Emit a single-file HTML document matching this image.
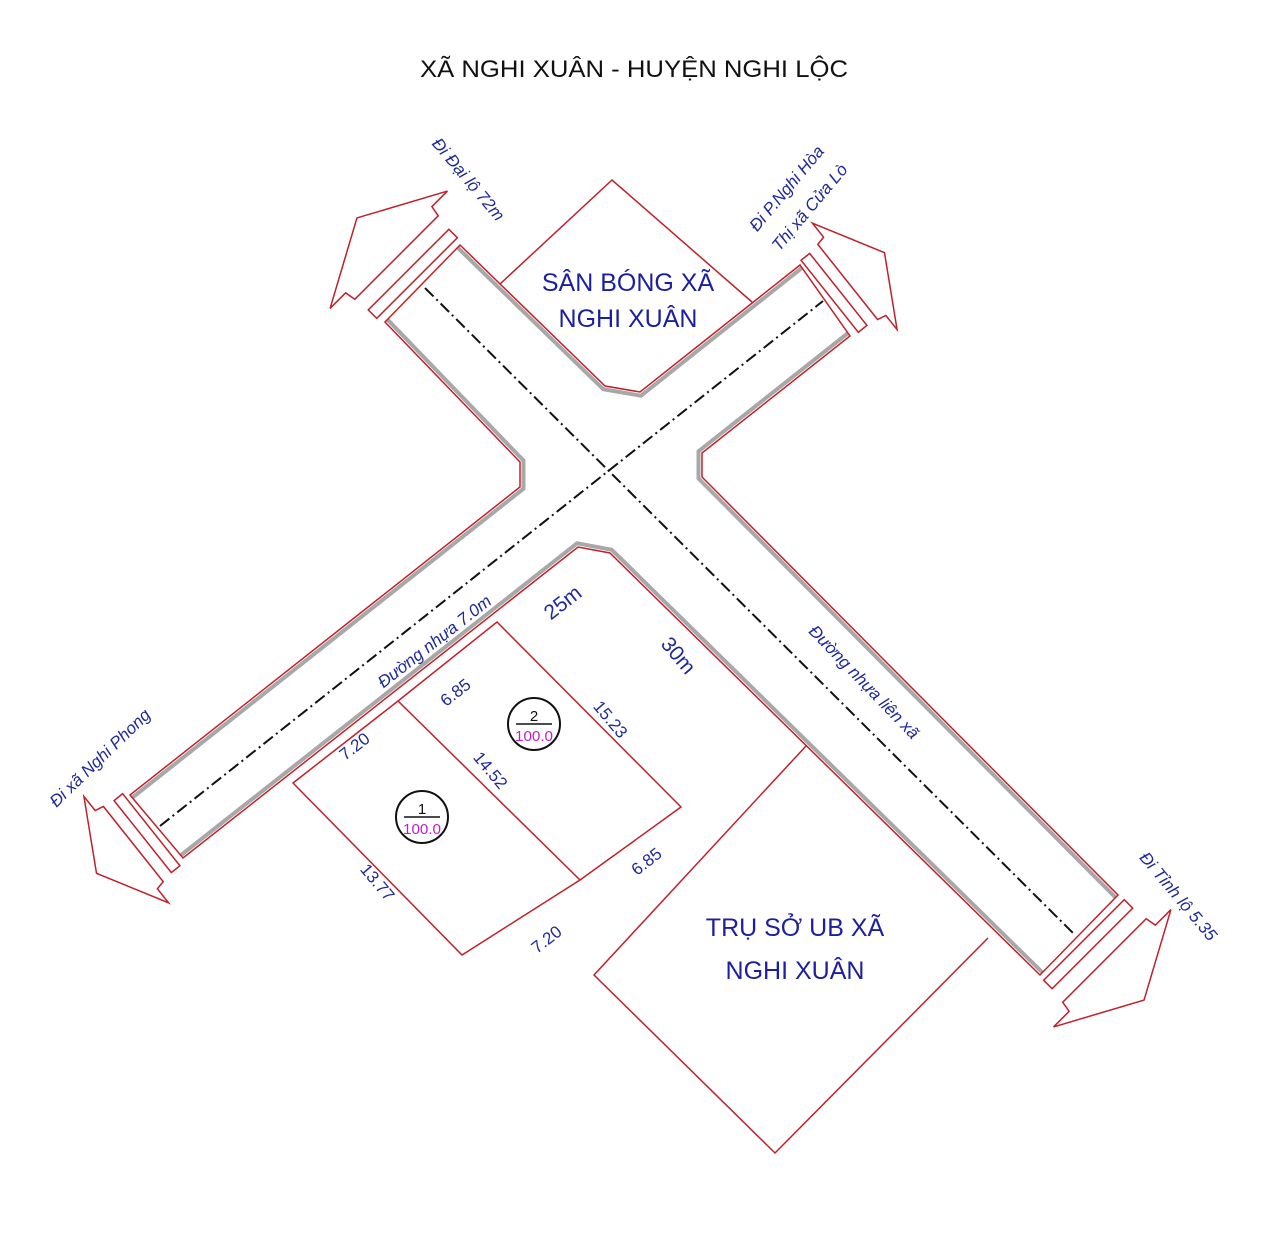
<!DOCTYPE html>
<html><head><meta charset="utf-8"><style>
html,body{margin:0;padding:0;background:#fff;}
svg{display:block;}
.lb{font-family:"Liberation Sans",sans-serif;font-style:italic;font-size:17px;fill:#1f2a9a;}
.dm{font-family:"Liberation Sans",sans-serif;font-size:17px;fill:#1f2a9a;}
.big{font-family:"Liberation Sans",sans-serif;font-size:25px;fill:#1b1fa0;}
</style></head><body>
<svg width="1280" height="1234" viewBox="0 0 1280 1234" xmlns="http://www.w3.org/2000/svg">
<defs>
<clipPath id="rc"><polygon points="385,322 460,245 605,386 640,392 800,265 850,336 702,453 702,477 1118,895 1040,975 610,553 578,547 183,858 130,795 520,487 520,462"/></clipPath>
</defs>
<text x="634" y="77" text-anchor="middle" textLength="428" lengthAdjust="spacingAndGlyphs" font-family="Liberation Sans, sans-serif" font-size="24" fill="#111">XÃ NGHI XUÂN - HUYỆN NGHI LỘC</text>

<g clip-path="url(#rc)" fill="none" stroke="#a8a8a8" stroke-width="11">
<polyline points="385,322 520,462 520,487 130,795"/>
<polyline points="460,245 605,386 640,392 800,265"/>
<polyline points="850,336 702,453 702,477 1118,895"/>
<polyline points="1040,975 610,553 578,547 183,858"/>
</g>
<g clip-path="url(#rc)" fill="none" stroke="#fff" stroke-width="3">
<polyline points="385,322 520,462 520,487 130,795"/>
<polyline points="460,245 605,386 640,392 800,265"/>
<polyline points="850,336 702,453 702,477 1118,895"/>
<polyline points="1040,975 610,553 578,547 183,858"/>
</g>
<polygon points="385,322 460,245 605,386 640,392 800,265 850,336 702,453 702,477 1118,895 1040,975 610,553 578,547 183,858 130,795 520,487 520,462" fill="none" stroke="#c0202a" stroke-width="1.5"/>

<g stroke="#111" stroke-width="2" stroke-dasharray="12,4,2,4" fill="none">
<line x1="425" y1="288" x2="1075" y2="935"/>
<line x1="160" y1="826" x2="823" y2="301"/>
</g>

<g fill="none" stroke="#c0202a" stroke-width="1.5">
<g transform="translate(422,283) rotate(-135)">
<rect x="7" y="-57" width="12" height="114"/>
<polygon points="36,-59 47,-61 47,-83 92,0 47,83 47,61 36,59"/>
</g>
<g transform="translate(1079,935) rotate(45)">
<rect x="7" y="-57" width="12" height="114"/>
<polygon points="36,-59 47,-61 47,-83 92,0 47,83 47,61 36,59"/>
</g>
<g transform="translate(825,300) rotate(-38.5)">
<rect x="6" y="-46" width="11" height="92"/>
<polygon points="29,-48 38,-50 38,-68 76,0 38,68 38,50 29,48"/>
</g>
<g transform="translate(156,826) rotate(141.5)">
<rect x="6" y="-46" width="11" height="92"/>
<polygon points="29,-48 38,-50 38,-68 76,0 38,68 38,50 29,48"/>
</g>
</g>

<g fill="none" stroke="#c0202a" stroke-width="1.5">
<polyline points="500,284 612,180 752,302"/>
<polyline points="806,746 594,975 775,1153 988,938"/>
<polygon points="293,783 462,955 580,880 398,701"/>
<polyline points="398,701 497,622 681,807 580,880"/>
</g>

<text class="big" x="628" y="291" text-anchor="middle">SÂN BÓNG XÃ</text>
<text class="big" x="628" y="327" text-anchor="middle">NGHI XUÂN</text>
<text class="big" x="795" y="936" text-anchor="middle">TRỤ SỞ UB XÃ</text>
<text class="big" x="795" y="979" text-anchor="middle">NGHI XUÂN</text>

<g text-anchor="middle">
<text class="lb" transform="translate(464,183) rotate(50)">Đi Đại lộ 72m</text>
<text class="lb" transform="translate(791,192) rotate(-50)">Đi P.Nghi Hòa</text>
<text class="lb" transform="translate(814,211) rotate(-50)">Thị xã Cửa Lò</text>
<text class="lb" transform="translate(104,762) rotate(-44)">Đi xã Nghi Phong</text>
<text class="lb" transform="translate(1174,900) rotate(50)">Đi Tỉnh lộ 5.35</text>
<text class="lb" transform="translate(438,646) rotate(-38)">Đường nhựa 7.0m</text>
<text class="lb" transform="translate(860,686) rotate(46)">Đường nhựa liên xã</text>
<text class="dm" style="font-size:21px" transform="translate(567,608) rotate(-38)">25m</text>
<text class="dm" style="font-size:21px" transform="translate(673,660) rotate(50)">30m</text>
<text class="dm" transform="translate(459,697) rotate(-38)">6.85</text>
<text class="dm" transform="translate(358,751) rotate(-38)">7.20</text>
<text class="dm" transform="translate(606,723) rotate(50)">15.23</text>
<text class="dm" transform="translate(486,774) rotate(50)">14.52</text>
<text class="dm" transform="translate(373,886) rotate(50)">13.77</text>
<text class="dm" transform="translate(550,944) rotate(-38)">7.20</text>
<text class="dm" transform="translate(650,866) rotate(-38)">6.85</text>
</g>

<g font-family="Liberation Sans, sans-serif" font-size="15" text-anchor="middle">
<ellipse cx="534" cy="724" rx="26" ry="26" fill="none" stroke="#111" stroke-width="2"/>
<text x="534" y="721" fill="#111">2</text>
<line x1="516" y1="724" x2="552" y2="724" stroke="#111" stroke-width="1.5"/>
<text x="534" y="741" fill="#c21ec2" textLength="38" lengthAdjust="spacingAndGlyphs">100.0</text>
<ellipse cx="422" cy="817" rx="26" ry="26" fill="none" stroke="#111" stroke-width="2"/>
<text x="422" y="814" fill="#111">1</text>
<line x1="404" y1="817" x2="440" y2="817" stroke="#111" stroke-width="1.5"/>
<text x="422" y="834" fill="#c21ec2" textLength="38" lengthAdjust="spacingAndGlyphs">100.0</text>
</g>
</svg>
</body></html>
